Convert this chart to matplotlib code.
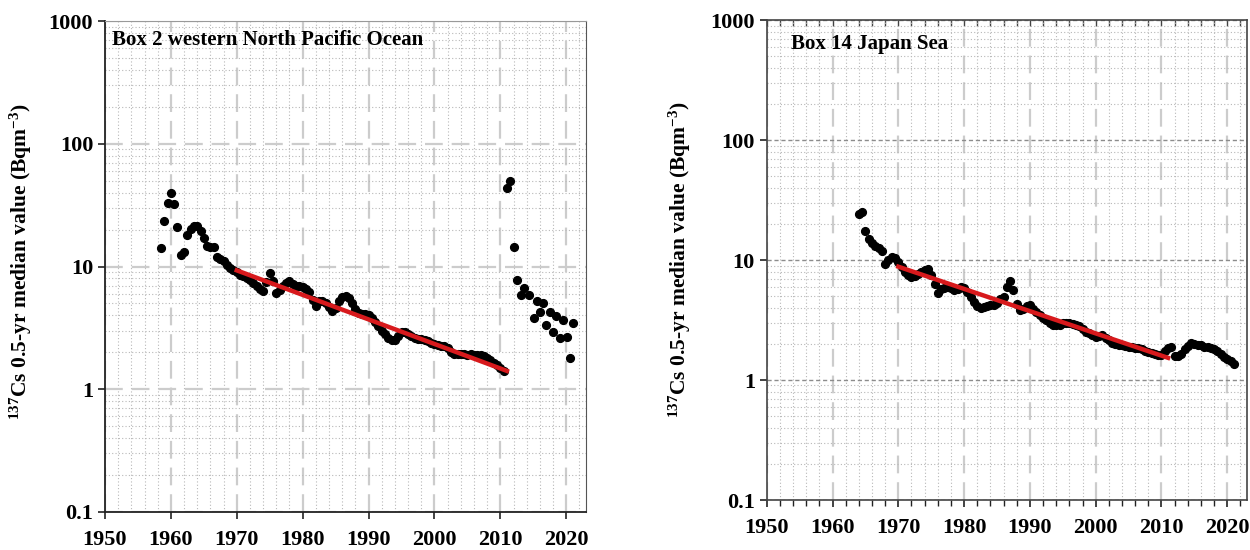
import numpy as np
import matplotlib
matplotlib.use('Agg')
import matplotlib.pyplot as plt
from matplotlib.ticker import MultipleLocator, LogLocator, FixedLocator, FixedFormatter, NullFormatter

plt.rcParams['font.family'] = ['Liberation Serif', 'DejaVu Serif']
plt.rcParams['font.weight'] = 'bold'
plt.rcParams['mathtext.fontset'] = 'custom'
plt.rcParams['mathtext.rm'] = 'Liberation Serif:bold'
plt.rcParams['mathtext.bf'] = 'Liberation Serif:bold'
plt.rcParams['mathtext.default'] = 'rm'

# Box 2 western North Pacific Ocean: 0.5-yr medians
box2_years = [1958.5, 1959.0, 1959.5, 1960.0, 1960.5, 1961.0, 1961.5, 1962.0, 1962.5, 1963.0,
              1963.5, 1964.0, 1964.5, 1965.0, 1965.5, 1966.0, 1966.5, 1967.0, 1967.5, 1968.0,
              1968.5, 1969.0, 1969.5, 1970.0, 1970.5, 1971.0, 1971.5, 1972.0, 1972.5, 1973.0,
              1973.5, 1974.0, 1974.5, 1975.0, 1975.5, 1976.0, 1976.5, 1977.0, 1977.5, 1978.0,
              1978.5, 1979.0, 1979.5, 1980.0, 1980.5, 1981.0, 1981.5, 1982.0, 1982.5, 1983.0,
              1983.5, 1984.0, 1984.5, 1985.0, 1985.5, 1986.0, 1986.5, 1987.0, 1987.5, 1988.0,
              1988.5, 1989.0, 1989.5, 1990.0, 1990.5, 1991.0, 1991.5, 1992.0, 1992.5, 1993.0,
              1993.5, 1994.0, 1994.5, 1995.0, 1995.5, 1996.0, 1996.5, 1997.0, 1997.5, 1998.0,
              1998.5, 1999.0, 1999.5, 2000.0, 2000.5, 2001.0, 2001.5, 2002.0, 2002.5, 2003.0,
              2003.5, 2004.0, 2004.5, 2005.0, 2005.5, 2006.0, 2006.5, 2007.0, 2007.5, 2008.0,
              2008.5, 2009.0, 2009.5, 2010.0, 2010.5,
              2011.0, 2011.5, 2012.0, 2012.6, 2013.1, 2013.6, 2014.3, 2015.1, 2015.5, 2016.0,
              2016.5, 2017.0, 2017.5, 2018.0, 2018.5, 2019.0, 2019.5, 2020.1, 2020.6, 2021.1]
box2_values = [14.2, 23.3, 33.0, 39.5, 32.0, 21.0, 12.3, 13.2, 18.0, 20.3,
               21.4, 21.2, 19.5, 17.0, 14.8, 14.5, 14.3, 12.0, 11.5, 11.0,
               10.3, 9.8, 9.3, 9.0, 8.6, 8.3, 8.0, 7.7, 7.3, 7.0,
               6.6, 6.3, 7.5, 8.9, 7.6, 6.1, 6.4, 7.0, 7.4, 7.6,
               7.2, 6.9, 7.0, 6.8, 6.6, 6.2, 5.3, 4.8, 5.2, 5.2,
               5.0, 4.7, 4.3, 4.6, 5.2, 5.6, 5.7, 5.5, 5.0, 4.5,
               4.2, 4.1, 4.1, 4.0, 3.8, 3.5, 3.3, 3.0, 2.8, 2.6,
               2.5, 2.5, 2.7, 2.9, 2.9, 2.8, 2.7, 2.6, 2.55, 2.55,
               2.5, 2.45, 2.4, 2.35, 2.3, 2.25, 2.25, 2.15, 2.0, 1.93,
               1.92, 1.93, 1.92, 1.9, 1.92, 1.9, 1.9, 1.9, 1.85, 1.8,
               1.72, 1.65, 1.57, 1.5, 1.42,
               43.6, 50.0, 14.5, 7.7, 5.9, 6.7, 5.9, 3.8, 5.2, 4.25,
               5.0, 3.34, 4.25, 2.94, 3.95, 2.6, 3.7, 2.68, 1.79, 3.44]
box2_trend_years = [1970.0, 2011.0]
box2_trend_values = [9.3, 1.41]

# Box 14 Japan Sea: 0.5-yr medians
box14_years = [1964.0, 1964.5, 1965.0, 1965.5, 1966.0, 1966.5, 1967.0, 1967.5, 1968.0, 1968.5,
               1969.0, 1969.5, 1970.0, 1970.5, 1971.0, 1971.5, 1972.0, 1972.5, 1973.0, 1973.5,
               1974.0, 1974.5, 1975.0, 1975.5, 1976.0, 1976.5, 1977.0, 1977.5, 1978.0, 1978.5,
               1979.0, 1979.5, 1980.0, 1980.5, 1981.0, 1981.5, 1982.0, 1982.5, 1983.0, 1983.5,
               1984.0, 1984.5, 1985.0, 1985.5, 1986.0, 1986.5, 1987.0, 1987.5, 1988.0, 1988.5,
               1989.0, 1989.5, 1990.0, 1990.5, 1991.0, 1991.5, 1992.0, 1992.5, 1993.0, 1993.5,
               1994.0, 1994.5, 1995.0, 1995.5, 1996.0, 1996.5, 1997.0, 1997.5, 1998.0, 1998.5,
               1999.0, 1999.5, 2000.0, 2000.5, 2001.0, 2001.5, 2002.0, 2002.5, 2003.0, 2003.5,
               2004.0, 2004.5, 2005.0, 2005.5, 2006.0, 2006.5, 2007.0, 2007.5, 2008.0, 2008.5,
               2009.0, 2009.5, 2010.0, 2010.5, 2011.0, 2011.5, 2012.0, 2012.5, 2013.0, 2013.5,
               2014.0, 2014.5, 2015.0, 2015.5, 2016.0, 2016.5, 2017.0, 2017.5, 2018.0, 2018.5,
               2019.0, 2019.5, 2020.0, 2020.5, 2021.0]
box14_values = [24.3, 25.3, 17.5, 15.0, 13.8, 13.2, 12.6, 12.0, 9.3, 10.0,
                10.5, 10.4, 9.6, 8.8, 8.0, 7.5, 7.2, 7.3, 7.7, 8.0,
                8.3, 8.4, 7.5, 6.3, 5.3, 5.7, 5.9, 6.0, 5.9, 5.6,
                5.7, 6.0, 5.8, 5.4, 4.9, 4.5, 4.1, 3.95, 4.05, 4.1,
                4.2, 4.2, 4.4, 4.7, 4.9, 6.0, 6.7, 5.6, 4.3, 3.8,
                3.9, 4.1, 4.2, 3.9, 3.7, 3.5, 3.3, 3.15, 3.0, 2.9,
                2.88, 2.9, 2.97, 2.97, 2.97, 2.95, 2.9, 2.8, 2.65, 2.53,
                2.45, 2.38, 2.3, 2.32, 2.35, 2.25, 2.15, 2.05, 2.0, 1.96,
                1.94, 1.92, 1.9, 1.88, 1.86, 1.85, 1.8, 1.74, 1.72, 1.69,
                1.66, 1.63, 1.61, 1.76, 1.85, 1.87, 1.58, 1.6, 1.66, 1.8,
                1.92, 2.02, 2.0, 1.96, 1.95, 1.9, 1.9, 1.86, 1.82, 1.76,
                1.66, 1.57, 1.5, 1.43, 1.37]
box14_trend_years = [1970.0, 2011.0]
box14_trend_values = [8.8, 1.53]

year_ticks = [1950, 1960, 1970, 1980, 1990, 2000, 2010, 2020]
value_ticks = [0.1, 1, 10, 100, 1000]
value_labels = ['0.1', '1', '10', '100', '1000']
ylabel = r'$^{137}$Cs 0.5-yr median value (Bqm$^{-3}$)'

fig = plt.figure(figsize=(12.5, 5.5), dpi=100)
ax1 = fig.add_axes([0.084, 0.0691, 0.3848, 0.8927])
ax2 = fig.add_axes([0.6134, 0.0909, 0.3842, 0.8727])


def style_axes(ax, dark_hgrid, label_x, label_y):
    ax.set_yscale('log')
    ax.set_xlim(1950, 2023)
    ax.set_ylim(0.1, 1000)
    ax.xaxis.set_major_locator(FixedLocator(year_ticks))
    ax.xaxis.set_minor_locator(MultipleLocator(2))
    ax.yaxis.set_major_locator(FixedLocator(value_ticks))
    ax.yaxis.set_major_formatter(FixedFormatter(value_labels))
    ax.yaxis.set_minor_locator(LogLocator(base=10, subs=np.arange(2, 10), numticks=20))
    ax.yaxis.set_minor_formatter(NullFormatter())
    ax.grid(True, which='minor', axis='both', color='#b8b8b8', lw=0.8, ls=(0, (1, 2)))
    ax.grid(True, which='major', axis='x', color='#cccccc', lw=1.6, ls=(0, (8, 4)))
    if dark_hgrid:
        ax.grid(True, which='major', axis='y', color='#8c8c8c', lw=1.0, ls=(0, (3, 2)))
    else:
        ax.grid(True, which='major', axis='y', color='#cccccc', lw=1.6, ls=(0, (8, 4)))
    ax.set_axisbelow(True)
    ax.tick_params(axis='both', which='major', direction='out', length=5, width=1.2,
                   labelsize=16, color='#222222')
    ax.tick_params(axis='x', which='major', pad=8)
    ax.tick_params(axis='y', which='minor', length=0)
    for lab in ax.get_xticklabels() + ax.get_yticklabels():
        lab.set_fontweight('bold')
    ax.set_ylabel(ylabel, fontsize=15.5, fontweight='bold')
    ax.yaxis.set_label_coords(label_x, label_y)


style_axes(ax1, dark_hgrid=False, label_x=-0.148, label_y=0.51)
ax1.tick_params(axis='x', which='minor', length=0)
ax1.spines['top'].set_color('#999999')
ax1.spines['right'].set_color('#555555')
for s in ['left', 'bottom']:
    ax1.spines[s].set_color('#222222')
    ax1.spines[s].set_linewidth(1.3)

style_axes(ax2, dark_hgrid=True, label_x=-0.153, label_y=0.5)
ax2.tick_params(axis='x', which='minor', direction='out', length=4, width=1.0, color='#222222')
for s in ['left', 'bottom', 'top', 'right']:
    ax2.spines[s].set_color('#444444')
    ax2.spines[s].set_linewidth(1.2)
top2 = ax2.secondary_xaxis('top')
top2.xaxis.set_major_locator(MultipleLocator(2))
top2.tick_params(axis='x', which='both', direction='in', length=4, width=1.0,
                 color='#444444', labeltop=False)
top2.spines['top'].set_visible(False)

ax1.plot(box2_years, box2_values, 'o', color='black', ms=5.6, zorder=3)
ax1.plot(box2_trend_years, box2_trend_values, '-', color='#d7191c', lw=3.2, zorder=4)
ax1.text(0.015, 0.961, 'Box 2 western North Pacific Ocean', transform=ax1.transAxes,
         fontsize=15, fontweight='bold', va='center', ha='left')

ax2.plot(box14_years, box14_values, 'o', color='black', ms=5.6, zorder=3)
ax2.plot(box14_trend_years, box14_trend_values, '-', color='#d7191c', lw=3.2, zorder=4)
ax2.text(0.05, 0.95, 'Box 14 Japan Sea', transform=ax2.transAxes,
         fontsize=15, fontweight='bold', va='center', ha='left')

fig.savefig('out.png', dpi=100)
